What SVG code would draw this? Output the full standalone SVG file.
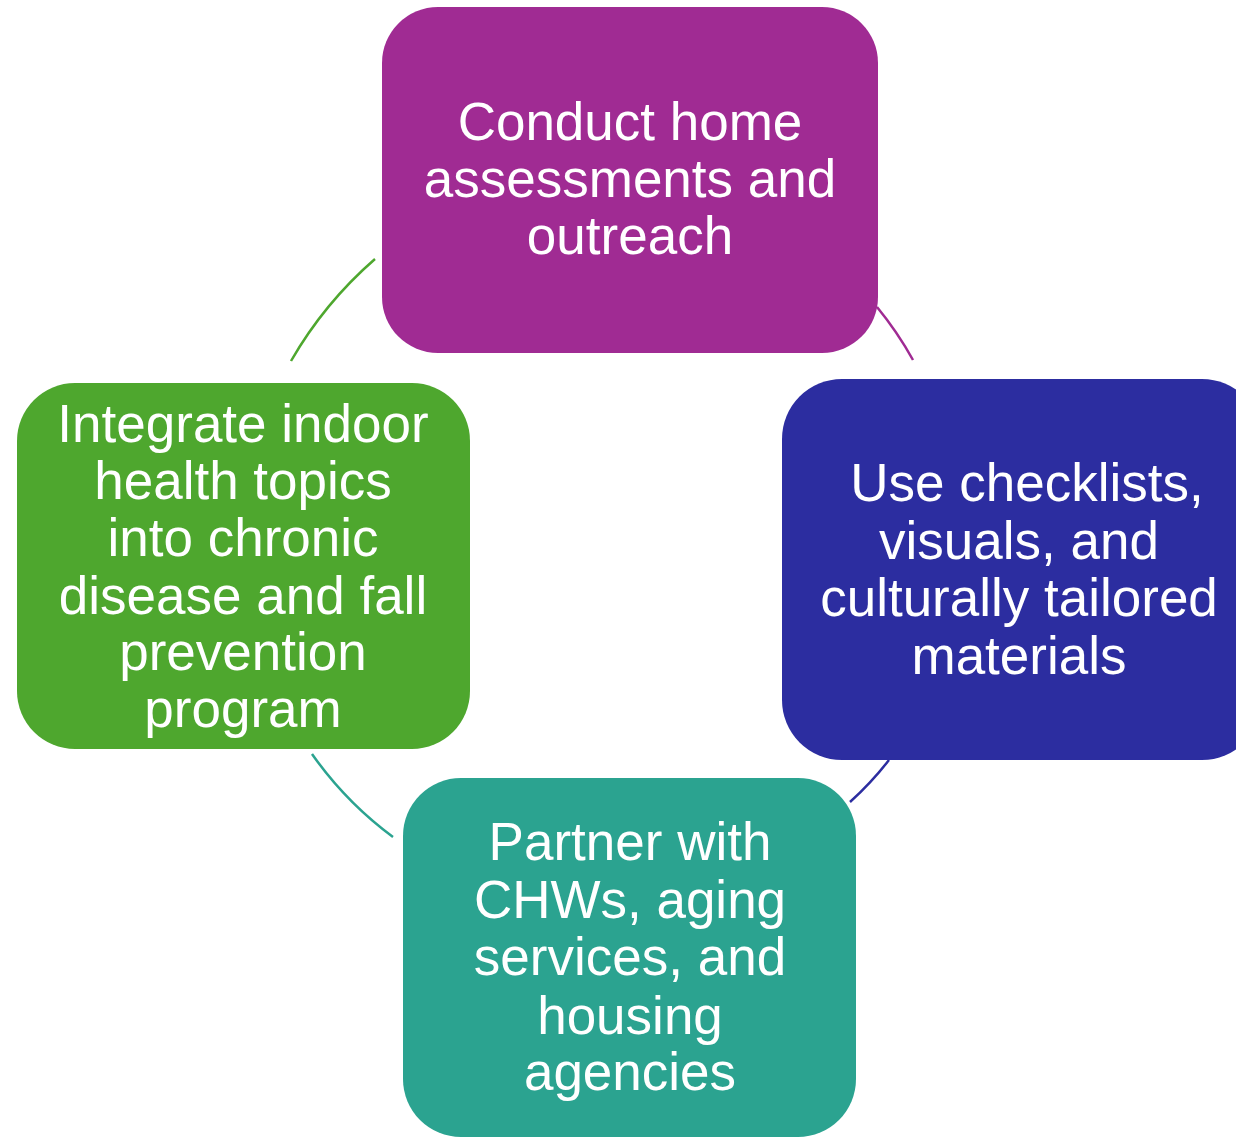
<svg xmlns="http://www.w3.org/2000/svg" width="1236" height="1138" viewBox="0 0 1236 1138">
<style>
.lbl{font-family:"Liberation Sans",Arial,sans-serif;font-size:53px;fill:#ffffff;text-anchor:middle}
.arc{fill:none;stroke-width:2.5}
</style>
<rect width="1236" height="1138" fill="#ffffff"/>
<g id="connectors">
<path class="arc" stroke="#A02B93" d="M877,307 A355,355 0 0 1 913,360"/>
<path class="arc" stroke="#2C2DA0" d="M889,760 A320,320 0 0 1 850,802"/>
<path class="arc" stroke="#2BA390" d="M393,837 A363,363 0 0 1 312,754"/>
<path class="arc" stroke="#4EA72E" d="M291,361 A399,399 0 0 1 375,259"/>
</g>
<g id="node-top">
<rect x="382" y="7" width="496" height="346" rx="56" fill="#A02B93"/>
<text class="lbl" x="630" y="140">Conduct home</text>
<text class="lbl" x="630" y="197">assessments and</text>
<text class="lbl" x="630" y="254">outreach</text>
</g>
<g id="node-right">
<rect x="782" y="379" width="480" height="381" rx="60" fill="#2C2DA0"/>
<text class="lbl" x="1027" y="501">Use checklists,</text>
<text class="lbl" x="1019" y="559">visuals, and</text>
<text class="lbl" x="1019" y="616">culturally tailored</text>
<text class="lbl" x="1019" y="674">materials</text>
</g>
<g id="node-bottom">
<rect x="403" y="778" width="453" height="359" rx="58" fill="#2BA390"/>
<text class="lbl" x="630" y="860">Partner with</text>
<text class="lbl" x="630" y="918">CHWs, aging</text>
<text class="lbl" x="630" y="975">services, and</text>
<text class="lbl" x="630" y="1034">housing</text>
<text class="lbl" x="630" y="1090">agencies</text>
</g>
<g id="node-left">
<rect x="17" y="383" width="453" height="366" rx="58" fill="#4EA72E"/>
<text class="lbl" x="243" y="442">Integrate indoor</text>
<text class="lbl" x="243" y="499">health topics</text>
<text class="lbl" x="243" y="556">into chronic</text>
<text class="lbl" x="243" y="614">disease and fall</text>
<text class="lbl" x="243" y="670">prevention</text>
<text class="lbl" x="243" y="727">program</text>
</g>
</svg>
